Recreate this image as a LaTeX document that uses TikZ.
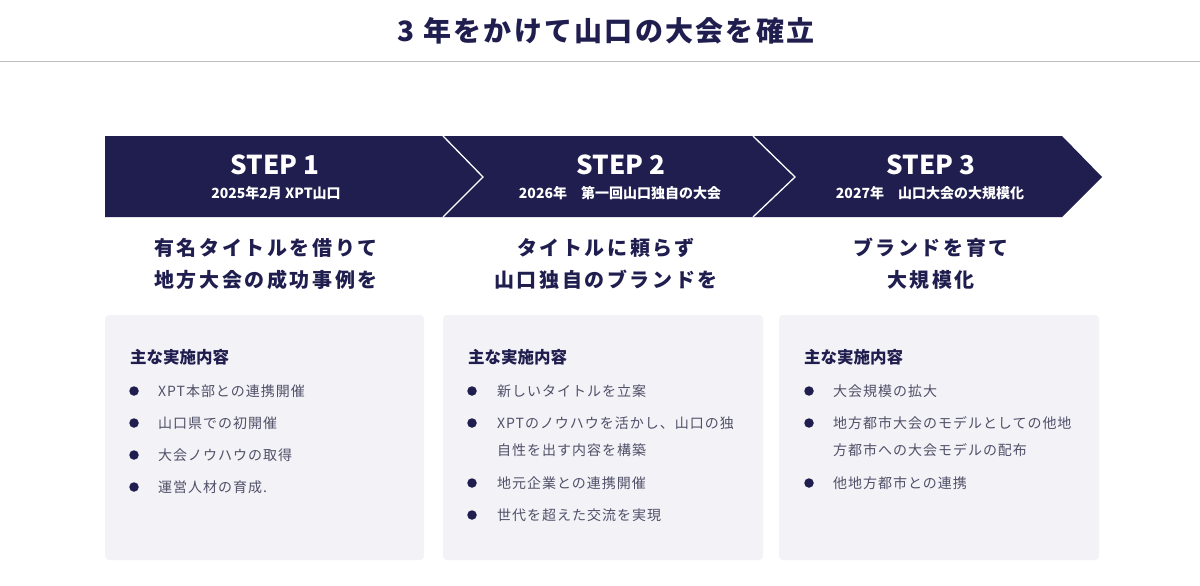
\documentclass[tikz,border=0pt]{standalone}
\usepackage{fontspec}
\setmainfont{Noto Sans CJK JP}
\newfontfamily\ttlfont[LetterSpace=8]{Noto Sans CJK JP}
\newfontfamily\headfont[LetterSpace=13]{Noto Sans CJK JP}
\newfontfamily\itemfont[LetterSpace=7]{Noto Sans CJK JP}
\definecolor{navy}{RGB}{31,30,79}
\definecolor{boxgray}{RGB}{243,242,246}
\definecolor{itemgray}{RGB}{80,80,105}
\definecolor{rulegray}{RGB}{190,190,195}
\begin{document}
\begin{tikzpicture}[x=1pt,y=-1pt,
  steplbl/.style={text=white, inner sep=0, font=\bfseries\fontsize{26}{30}\selectfont},
  stepsub/.style={text=white, inner sep=0, font=\bfseries\fontsize{14}{16}\selectfont},
  headln/.style={text=navy, inner sep=0, align=center, font=\headfont\bfseries\fontsize{20}{32}\selectfont},
  boxhead/.style={text=navy, inner sep=0, anchor=west, font=\bfseries\fontsize{16.5}{20}\selectfont},
  itemtxt/.style={text=itemgray, inner sep=0, anchor=west, align=left, font=\itemfont\fontsize{14}{27}\selectfont},
  dot/.style={circle, fill=navy, inner sep=0, minimum size=9.5}]
\useasboundingbox (0,0) rectangle (1200,586);
\fill[white] (0,0) rectangle (1200,586);
% title
\node[text=navy, inner sep=0, font=\ttlfont\bfseries\fontsize{28}{32}\selectfont] (title) at (606,31){3 年をかけて山口の大会を確立};
\draw[rulegray, line width=1] (0,62) -- (1200,62);
% chevron band
\fill[navy] (105,136) -- (1062,136) -- (1102,177) -- (1062,217) -- (105,217) -- cycle;
\draw[white, line width=1.3] (443,136) -- (483,177) -- (443,217);
\draw[white, line width=1.3] (753,136) -- (795,177) -- (753,217);
\node[steplbl] (s1) at (275,165){STEP 1};
\node[stepsub] (s1sub) at (276,193){2025年2月 XPT山口};
\node[steplbl] (s2) at (621,165){STEP 2};
\node[stepsub] (s2sub) at (620,193){2026年　第一回山口独自の大会};
\node[steplbl] (s3) at (931,165){STEP 3};
\node[stepsub] (s3sub) at (930,193){2027年　山口大会の大規模化};
% headings
\node[headln] (h1) at (266,264){有名タイトルを借りて\\地方大会の成功事例を};
\node[headln] (h2) at (606,264){タイトルに頼らず\\山口独自のブランドを};
\node[headln] (h3) at (931,264){ブランドを育て\\大規模化};
% boxes
\fill[boxgray, rounded corners=4] (105,315) rectangle (424,560);
\fill[boxgray, rounded corners=4] (443,315) rectangle (763,560);
\fill[boxgray, rounded corners=4] (779,315) rectangle (1099,560);
% box 1
\node[boxhead] (b1h) at (130,357){主な実施内容};
\node[dot] (b1d1) at (134,391){};
\node[itemtxt] (b1i1) at (158,391){XPT本部との連携開催};
\node[dot] (b1d2) at (134,423){};
\node[itemtxt] (b1i2) at (158,423){山口県での初開催};
\node[dot] (b1d3) at (134,455){};
\node[itemtxt] (b1i3) at (158,455){大会ノウハウの取得};
\node[dot] (b1d4) at (134,487){};
\node[itemtxt] (b1i4) at (158,487){運営人材の育成.};
% box 2
\node[boxhead] (b2h) at (468,357){主な実施内容};
\node[dot] (b2d1) at (472,391){};
\node[itemtxt] (b2i1) at (497,391){新しいタイトルを立案};
\node[dot] (b2d2) at (472,423){};
\node[itemtxt] (b2i2) at (497,436.5){XPTのノウハウを活かし、山口の独\\自性を出す内容を構築};
\node[dot] (b2d3) at (472,483){};
\node[itemtxt] (b2i3) at (497,483){地元企業との連携開催};
\node[dot] (b2d4) at (472,515){};
\node[itemtxt] (b2i4) at (497,515){世代を超えた交流を実現};
% box 3
\node[boxhead] (b3h) at (804,357){主な実施内容};
\node[dot] (b3d1) at (809,391){};
\node[itemtxt] (b3i1) at (833,391){大会規模の拡大};
\node[dot] (b3d2) at (809,423){};
\node[itemtxt] (b3i2) at (833,436.5){地方都市大会のモデルとしての他地\\方都市への大会モデルの配布};
\node[dot] (b3d3) at (809,483){};
\node[itemtxt] (b3i3) at (833,483){他地方都市との連携};
\end{tikzpicture}
\end{document}
